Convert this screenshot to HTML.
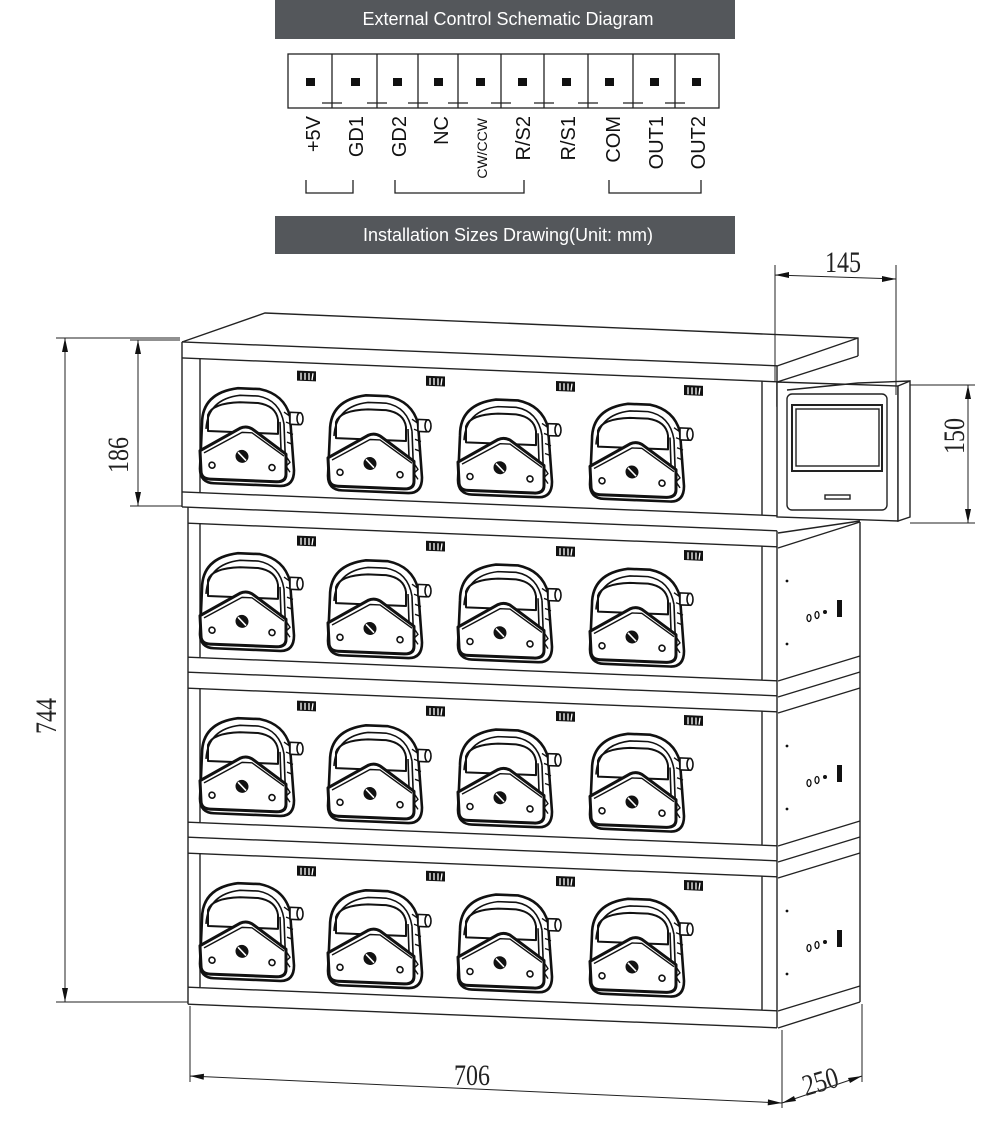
<!DOCTYPE html>
<html><head><meta charset="utf-8"><style>
html,body{margin:0;padding:0;background:#fff;}
svg{display:block;}
</style></head><body>
<svg width="1000" height="1124" viewBox="0 0 1000 1124" xmlns="http://www.w3.org/2000/svg">
<defs>
<g id="pump" fill="none" stroke="#111" stroke-linejoin="round">
  <path d="M4,45 Q4,14 40,8 L62,8 Q86,12 92,34 L96,88 Q96,104 82,104 L16,104 Q2,104 2,90 Z" stroke-width="2.6" fill="#fff"/>
  <path d="M8,50 Q10,20 42,15 L60,15 Q82,18 86,42" stroke-width="1.6"/>
  <path d="M10,52 L10,36 Q14,24 42,22 L60,22 Q78,24 80,38 L80,52 Z" stroke-width="2"/>
  <path d="M86,30 L92,34 M88,40 L94,42 M89,50 L95,52 M89,60 L95,62" stroke-width="1.4"/>
  <path d="M82,40 L84,96 M86,42 L88,94" stroke-width="1.6"/>
  <rect x="92" y="30" width="9" height="12" stroke-width="1.6" fill="#fff"/>
  <ellipse cx="102" cy="36" rx="3" ry="6" stroke-width="1.6" fill="#fff"/>
  <path d="M2,72 L42,48 Q48,45 54,48 L88,72 L88,92 Q88,100 78,100 L12,100 Q3,100 3,92 Z" stroke-width="3" fill="#fff"/>
  <path d="M6,74 L44,52 L54,52 L86,74" stroke-width="1.4"/>
  <circle cx="44" cy="76" r="6.5" fill="#111" stroke="none"/>
  <path d="M40,72 L48,80" stroke="#fff" stroke-width="1.6"/>
  <circle cx="14" cy="86" r="3" stroke-width="1.6"/>
  <circle cx="74" cy="86" r="3" stroke-width="1.6"/>
  <path d="M88,74 L92,80 L88,84 L92,90" stroke-width="1.4"/>
</g>
<g id="tag"><rect x="0" y="0" width="19" height="10" fill="#111"/><path d="M4,2 L4,9 M8,2 L8,9 M12,2 L12,9 M16,2 L15,9" stroke="#fff" stroke-width="1.3"/></g>
</defs>

<!-- header bars -->
<rect x="275" y="0" width="460" height="39" fill="#54575b"/>
<text x="508" y="25" font-family="Liberation Sans, sans-serif" font-size="18" fill="#fff" text-anchor="middle">External Control Schematic Diagram</text>
<rect x="275" y="216" width="460" height="38" fill="#54575b"/>
<text x="508" y="241" font-family="Liberation Sans, sans-serif" font-size="18" fill="#fff" text-anchor="middle">Installation Sizes Drawing(Unit: mm)</text>

<!-- terminal block -->
<g stroke="#222" stroke-width="1.3" fill="none">
<rect x="288" y="54" width="431" height="54"/>
<path d="M332,54V108 M377,54V108 M418,54V108 M458,54V108 M501,54V108 M544,54V108 M588,54V108 M633,54V108 M675,54V108"/>
<path d="M322,103H342 M367,103H387 M408,103H428 M448,103H468 M491,103H511 M534,103H554 M578,103H598 M623,103H643 M665,103H685"/>
<path d="M306,180V193H353V180 M395,180V193H524V180 M609,180V193H701V180"/>
</g>
<g fill="#111">
<rect x="306" y="78" width="9" height="8"/><rect x="351" y="78" width="9" height="8"/><rect x="393" y="78" width="9" height="8"/><rect x="434" y="78" width="9" height="8"/><rect x="476" y="78" width="9" height="8"/><rect x="518" y="78" width="9" height="8"/><rect x="562" y="78" width="9" height="8"/><rect x="605" y="78" width="9" height="8"/><rect x="650" y="78" width="9" height="8"/><rect x="692" y="78" width="9" height="8"/>
</g>
<g font-family="Liberation Sans, sans-serif" font-size="20" fill="#111" text-anchor="end">
<text transform="translate(320,116) rotate(-90)">+5V</text>
<text transform="translate(363,116) rotate(-90)">GD1</text>
<text transform="translate(406,116) rotate(-90)">GD2</text>
<text transform="translate(448,116) rotate(-90)">NC</text>
<text transform="translate(487,118) rotate(-90)" font-size="14">CW/CCW</text>
<text transform="translate(530,116) rotate(-90)">R/S2</text>
<text transform="translate(575,116) rotate(-90)">R/S1</text>
<text transform="translate(620,116) rotate(-90)">COM</text>
<text transform="translate(663,116) rotate(-90)">OUT1</text>
<text transform="translate(705,116) rotate(-90)">OUT2</text>
</g>

<!-- cabinet: top face -->
<g stroke="#222" stroke-width="1.4" fill="none">
<path d="M182,342 L265,313 L858,338 L858,356"/>
<path d="M777,366 L858,338 M777,382 L858,356"/>
</g>

<!-- front face (skewed) -->
<g transform="matrix(1,0.04,0,1,0,-7.3)" stroke="#222" stroke-width="1.4" fill="none">
  <path d="M182,342 L777,342 M182,358 L777,358"/>
  <path d="M182,342 V507 M200,358 V492 M762,358 V492"/>
  <path d="M182,492 H777 M182,507 H777 M188,523 H777"/>
  <path d="M188,507 V1004"/>
  <path d="M200,523 V657 M762,523 V657 M188,657 H777 M188,672 H777 M188,688 H777"/>
  <path d="M200,688 V822 M762,688 V822 M188,822 H777 M188,837 H777 M188,853 H777"/>
  <path d="M200,853 V987 M762,853 V987 M188,987 H777 M188,1004 H777"/>
  <path d="M777,342 V383 M777,507 V1004"/>
  <use href="#pump" x="198" y="378"/><use href="#pump" x="326" y="380"/><use href="#pump" x="456" y="379"/><use href="#pump" x="588" y="378"/>
  <use href="#pump" x="198" y="543"/><use href="#pump" x="326" y="545"/><use href="#pump" x="456" y="544"/><use href="#pump" x="588" y="543"/>
  <use href="#pump" x="198" y="708"/><use href="#pump" x="326" y="710"/><use href="#pump" x="456" y="709"/><use href="#pump" x="588" y="708"/>
  <use href="#pump" x="198" y="873"/><use href="#pump" x="326" y="875"/><use href="#pump" x="456" y="874"/><use href="#pump" x="588" y="873"/>
  <g stroke="none">
  <use href="#tag" x="297" y="366"/><use href="#tag" x="426" y="366"/><use href="#tag" x="556" y="366"/><use href="#tag" x="684" y="365"/>
  <use href="#tag" x="297" y="531"/><use href="#tag" x="426" y="531"/><use href="#tag" x="556" y="531"/><use href="#tag" x="684" y="530"/>
  <use href="#tag" x="297" y="696"/><use href="#tag" x="426" y="696"/><use href="#tag" x="556" y="696"/><use href="#tag" x="684" y="695"/>
  <use href="#tag" x="297" y="861"/><use href="#tag" x="426" y="861"/><use href="#tag" x="556" y="861"/><use href="#tag" x="684" y="860"/>
  </g>
</g>

<!-- right side face -->
<g stroke="#222" stroke-width="1.4" fill="none">
  <path d="M860,522 V1002"/>
  <path d="M778,533 L860,521 M778,548 L860,522"/>
  <path d="M778,681 L860,656 M778,697 L860,672 M778,713 L860,688"/>
  <path d="M778,846 L860,821 M778,862 L860,837 M778,878 L860,853"/>
  <path d="M778,1011 L860,986 M778,1028 L860,1002"/>
</g>
<g fill="#111">
  <circle cx="787" cy="581" r="1.4"/><circle cx="787" cy="644" r="1.4"/>
  <circle cx="787" cy="746" r="1.4"/><circle cx="787" cy="809" r="1.4"/>
  <circle cx="787" cy="911" r="1.4"/><circle cx="787" cy="974" r="1.4"/>
  <rect x="837" y="600" width="5" height="17"/><rect x="837" y="765" width="5" height="17"/><rect x="837" y="930" width="5" height="17"/>
  <circle cx="825" cy="612" r="2"/><circle cx="825" cy="777" r="2"/><circle cx="825" cy="942" r="2"/>
</g>
<g fill="none" stroke="#111" stroke-width="1.3">
  <ellipse cx="809" cy="618" rx="2" ry="3.5"/><ellipse cx="817" cy="615" rx="2" ry="3.5"/>
  <ellipse cx="809" cy="783" rx="2" ry="3.5"/><ellipse cx="817" cy="780" rx="2" ry="3.5"/>
  <ellipse cx="809" cy="948" rx="2" ry="3.5"/><ellipse cx="817" cy="945" rx="2" ry="3.5"/>
</g>

<!-- control box -->
<g stroke="#222" stroke-width="1.4" fill="#fff">
  <path d="M777,382 L898,386 L898,521 L777,517 Z"/>
  <path d="M898,386 L910,381 L910,517 L898,521 Z"/>
  <path d="M787,390 L858,383 L910,381" fill="none"/>
  <rect x="787" y="394" width="100" height="116" rx="5"/>
  <rect x="792" y="405" width="90" height="66" stroke-width="2"/>
  <rect x="796" y="409" width="83" height="57"/>
  <rect x="825" y="495" width="25" height="4"/>
</g>

<!-- dimensions -->
<g stroke="#222" stroke-width="1" fill="none">
  <path d="M56,338 H180 M56,1002 H188 M65,338 V1002"/>
  <path d="M130,340 H180 M130,506 H182 M138,340 V506"/>
  <path d="M775,265 V382 M896,265 V395 M775,275 L896,279"/>
  <path d="M910,385 H975 M910,523 H975 M968,385 V523"/>
  <path d="M190,1006 V1082 M782,1030 V1108 M862,1004 V1082 M190,1076 L782,1103 M782,1103 L862,1076"/>
</g>
<g fill="#111">
  <path d="M65,338 l-3,14 h6 Z M65,1002 l-3,-14 h6 Z"/>
  <path d="M138,340 l-3,14 h6 Z M138,506 l-3,-14 h6 Z"/>
  <path d="M775,275 l14,-3 v6 Z M896,279 l-14,-3 v6 Z"/>
  <path d="M968,385 l-3,14 h6 Z M968,523 l-3,-14 h6 Z"/>
  <path d="M190,1076 l14,-2.3 l-0.3,6 Z M782,1103 l-14,-3.6 l-0.3,6 Z"/>
  <path d="M782,1103 l12,-7 l2,5 Z M862,1076 l-12,7 l-2,-5 Z"/>
</g>
<g font-family="Liberation Serif, serif" font-size="30" fill="#222" text-anchor="middle">
  <text transform="translate(56,716) rotate(-90) scale(0.8,1)">744</text>
  <text transform="translate(128,455) rotate(-90) scale(0.8,1)">186</text>
  <text transform="translate(843,272) scale(0.8,1)">145</text>
  <text transform="translate(964,436) rotate(-90) scale(0.8,1)">150</text>
  <text transform="translate(472,1085) scale(0.8,1)">706</text>
  <text transform="translate(823,1091) rotate(-16) scale(0.8,1)">250</text>
</g>
</svg>
</body></html>
